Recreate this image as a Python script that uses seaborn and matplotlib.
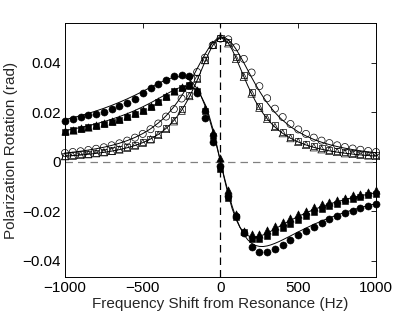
import matplotlib
matplotlib.use("Agg")
import matplotlib.pyplot as plt
import pandas as pd
import seaborn as sns

# measured points, shared frequency grid (Hz)
freq = [-1000, -950, -900, -850, -800, -750, -700, -650, -600, -550, -500,
        -450, -400, -350, -300, -250, -200, -150, -100, -50, 0,
        50, 100, 150, 200, 250, 300, 350, 400, 450, 500,
        550, 600, 650, 700, 750, 800, 850, 900, 950, 1000]

# dispersive (filled markers)
disp_circ = [0.0163, 0.0173, 0.0180, 0.0187, 0.0194, 0.0202, 0.0214, 0.0224, 0.0236, 0.0255, 0.0276,
             0.0296, 0.0312, 0.0331, 0.0344, 0.0350, 0.0346, 0.0278, 0.0178, 0.0080, -0.0016,
             -0.0140, -0.0220, -0.0290, -0.0345, -0.0364, -0.0366, -0.0352, -0.0338, -0.0316, -0.0297,
             -0.0279, -0.0262, -0.0247, -0.0233, -0.0219, -0.0208, -0.0198, -0.0187, -0.0178, -0.0170]
disp_sq = [0.0121, 0.0127, 0.0132, 0.0138, 0.0145, 0.0152, 0.0160, 0.0170, 0.0180, 0.0192, 0.0206,
           0.0222, 0.0240, 0.0262, 0.0284, 0.0298, 0.0310, 0.0285, 0.0205, 0.0105, -0.0030,
           -0.0145, -0.0225, -0.0285, -0.0312, -0.0313, -0.0302, -0.0285, -0.0268, -0.0250, -0.0234,
           -0.0219, -0.0205, -0.0192, -0.0180, -0.0170, -0.0160, -0.0151, -0.0143, -0.0136, -0.0130]
disp_tri = [0.0123, 0.0129, 0.0135, 0.0141, 0.0148, 0.0155, 0.0163, 0.0173, 0.0183, 0.0195, 0.0209,
            0.0225, 0.0243, 0.0264, 0.0285, 0.0300, 0.0308, 0.0290, 0.0215, 0.0120, 0.0014,
            -0.0114, -0.0210, -0.0282, -0.0293, -0.0293, -0.0277, -0.0260, -0.0242, -0.0226, -0.0211,
            -0.0198, -0.0185, -0.0173, -0.0163, -0.0153, -0.0145, -0.0136, -0.0129, -0.0122, -0.0116]

# absorptive (open markers)
abs_circ = [0.0035, 0.0039, 0.0042, 0.0047, 0.0052, 0.0058, 0.0066, 0.0074, 0.0085, 0.0097, 0.0112,
            0.0131, 0.0154, 0.0182, 0.0212, 0.0255, 0.0305, 0.0362, 0.0420, 0.0470, 0.0497,
            0.0494, 0.0462, 0.0415, 0.0360, 0.0305, 0.0256, 0.0214, 0.0180, 0.0152, 0.0130,
            0.0112, 0.0097, 0.0085, 0.0075, 0.0066, 0.0059, 0.0053, 0.0048, 0.0043, 0.0039]
abs_sq = [0.0024, 0.0026, 0.0029, 0.0032, 0.0036, 0.0040, 0.0045, 0.0051, 0.0058, 0.0068, 0.0079,
          0.0093, 0.0112, 0.0136, 0.0168, 0.0211, 0.0270, 0.0338, 0.0412, 0.0470, 0.0498,
          0.0482, 0.0422, 0.0350, 0.0282, 0.0224, 0.0180, 0.0146, 0.0120, 0.0100, 0.0085,
          0.0072, 0.0062, 0.0054, 0.0048, 0.0042, 0.0038, 0.0034, 0.0031, 0.0028, 0.0026]
abs_tri = [0.0022, 0.0024, 0.0027, 0.0030, 0.0034, 0.0038, 0.0043, 0.0049, 0.0056, 0.0065, 0.0076,
           0.0090, 0.0108, 0.0132, 0.0163, 0.0206, 0.0265, 0.0335, 0.0410, 0.0472, 0.0500,
           0.0478, 0.0415, 0.0343, 0.0275, 0.0218, 0.0173, 0.0140, 0.0115, 0.0095, 0.0080,
           0.0068, 0.0058, 0.0050, 0.0044, 0.0039, 0.0034, 0.0031, 0.0028, 0.0025, 0.0023]

# fit curves, finer grid near resonance
fit_freq = [-1000, -950, -900, -850, -800, -750, -700, -650, -600, -550, -500, -450,
            -400, -375, -350, -325, -300, -275, -250, -225, -200, -175, -150, -125,
            -100, -75, -50, -25, 0, 25, 50, 75, 100, 125, 150, 175, 200, 225,
            250, 275, 300, 325, 350, 375, 400,
            450, 500, 550, 600, 650, 700, 750, 800, 850, 900, 950, 1000]
fit_disp1 = [0.01699, 0.01775, 0.01859, 0.01949, 0.02048, 0.02155, 0.02272, 0.02398, 0.02535, 0.02683, 0.02838, 0.02999,
             0.03158, 0.03233, 0.03301, 0.03360, 0.03404, 0.03428, 0.03424, 0.03385, 0.03299, 0.03155, 0.02941, 0.02647,
             0.02266, 0.01798, 0.01250, 0.00641, 0.0, -0.00641, -0.01250, -0.01798, -0.02266, -0.02647, -0.02941, -0.03155, -0.03299, -0.03385,
             -0.03424, -0.03428, -0.03404, -0.03360, -0.03301, -0.03233, -0.03158,
             -0.02999, -0.02838, -0.02683, -0.02535, -0.02398, -0.02272, -0.02155, -0.02048, -0.01949, -0.01859, -0.01775, -0.01699]
fit_disp2 = [0.01254, 0.01313, 0.01379, 0.01450, 0.01529, 0.01616, 0.01712, 0.01819, 0.01937, 0.02068, 0.02214, 0.02373,
             0.02544, 0.02632, 0.02720, 0.02807, 0.02888, 0.02960, 0.03016, 0.03047, 0.03042, 0.02986, 0.02862, 0.02651,
             0.02333, 0.01897, 0.01346, 0.00700, 0.0, -0.00700, -0.01346, -0.01897, -0.02333, -0.02651, -0.02862, -0.02986, -0.03042, -0.03047,
             -0.03016, -0.02960, -0.02888, -0.02807, -0.02720, -0.02632, -0.02544,
             -0.02373, -0.02214, -0.02068, -0.01937, -0.01819, -0.01712, -0.01616, -0.01529, -0.01450, -0.01379, -0.01313, -0.01254]
fit_abs1 = [0.00347, 0.00381, 0.00421, 0.00467, 0.00520, 0.00582, 0.00656, 0.00744, 0.00850, 0.00977, 0.01133, 0.01324,
            0.01561, 0.01699, 0.01853, 0.02025, 0.02215, 0.02425, 0.02656, 0.02908, 0.03178, 0.03463, 0.03758, 0.04053,
            0.04336, 0.04592, 0.04801, 0.04950, 0.05023, 0.05015, 0.04926, 0.04764, 0.04543, 0.04281, 0.03995, 0.03699, 0.03405, 0.03122,
            0.02855, 0.02608, 0.02382, 0.02176, 0.01989, 0.01821, 0.01670,
            0.01413, 0.01205, 0.01036, 0.00898, 0.00784, 0.00689, 0.00610, 0.00544, 0.00487, 0.00438, 0.00397, 0.00360]
fit_abs2 = [0.00219, 0.00241, 0.00267, 0.00297, 0.00333, 0.00375, 0.00425, 0.00486, 0.00561, 0.00652, 0.00767, 0.00913,
            0.01099, 0.01212, 0.01342, 0.01490, 0.01660, 0.01855, 0.02077, 0.02332, 0.02619, 0.02940, 0.03290, 0.03661,
            0.04037, 0.04392, 0.04693, 0.04904, 0.04997, 0.04957, 0.04790, 0.04521, 0.04183, 0.03812, 0.03437, 0.03077, 0.02743, 0.02442,
            0.02175, 0.01940, 0.01735, 0.01555, 0.01399, 0.01262, 0.01143,
            0.00946, 0.00794, 0.00673, 0.00577, 0.00500, 0.00437, 0.00384, 0.00341, 0.00304, 0.00273, 0.00246, 0.00223]

xticks = [-1000, -500, 0, 500, 1000]
xticklabels = ["\u22121000", "\u2212500", "0", "500", "1000"]
yticks = [-0.04, -0.02, 0, 0.02, 0.04]
yticklabels = ["\u22120.04", "\u22120.02", "0", "0.02", "0.04"]

sns.set_style("white")
plt.rcParams['font.family'] = ['Liberation Sans', 'DejaVu Sans']

fig = plt.figure(figsize=(4.15, 3.16), dpi=100)
ax = fig.add_axes([0.1566, 0.1234, 0.7494, 0.8038])

pts = pd.DataFrame({'freq': freq, 'disp_circ': disp_circ, 'disp_sq': disp_sq, 'disp_tri': disp_tri,
                    'abs_circ': abs_circ, 'abs_sq': abs_sq, 'abs_tri': abs_tri})
fits = pd.DataFrame({'freq': fit_freq, 'disp1': fit_disp1, 'disp2': fit_disp2,
                     'abs1': fit_abs1, 'abs2': fit_abs2})

# reference lines
ax.axhline(0, color='#808080', ls=(0, (6, 4)), lw=0.9, zorder=1)
ax.axvline(0, color='black', ls=(0, (6, 4)), lw=0.9, zorder=1)

for col in ['disp1', 'disp2', 'abs1', 'abs2']:
    sns.lineplot(data=fits, x='freq', y=col, ax=ax, color='black', lw=0.7,
                 sort=False, estimator=None, zorder=2)

# filled markers
sns.scatterplot(data=pts, x='freq', y='disp_circ', ax=ax, marker='o', color='black',
                edgecolor='black', s=26, linewidth=0.4, zorder=3, clip_on=False)
sns.scatterplot(data=pts, x='freq', y='disp_sq', ax=ax, marker='s', color='black',
                edgecolor='black', s=19, linewidth=0.4, zorder=3, clip_on=False)
sns.scatterplot(data=pts, x='freq', y='disp_tri', ax=ax, marker='^', color='black',
                edgecolor='black', s=28, linewidth=0.4, zorder=3, clip_on=False)

# open markers
sns.scatterplot(data=pts, x='freq', y='abs_circ', ax=ax, marker='o', facecolor='none',
                edgecolor='black', s=26, linewidth=0.5, zorder=3, clip_on=False)
sns.scatterplot(data=pts, x='freq', y='abs_sq', ax=ax, marker='s', facecolor='none',
                edgecolor='black', s=19, linewidth=0.5, zorder=3, clip_on=False)
sns.scatterplot(data=pts, x='freq', y='abs_tri', ax=ax, marker='^', facecolor='none',
                edgecolor='black', s=28, linewidth=0.5, zorder=3, clip_on=False)

ax.set_xlim(-1000, 1000)
ax.set_ylim(-0.0466, 0.056)
ax.set_xticks(xticks)
ax.set_xticklabels(xticklabels)
ax.set_yticks(yticks)
ax.set_yticklabels(yticklabels)
ax.tick_params(direction='in', length=3.5, width=0.6, top=True, right=True,
               labelsize=11, colors='black', pad=3)
for s in ax.spines.values():
    s.set_color('black')
    s.set_linewidth(0.7)

ax.set_xlabel('Frequency Shift from Resonance (Hz)', fontsize=11, labelpad=1)
ax.set_ylabel('Polarization Rotation (rad)', fontsize=11, labelpad=3)

fig.savefig('out.png', dpi=100)
